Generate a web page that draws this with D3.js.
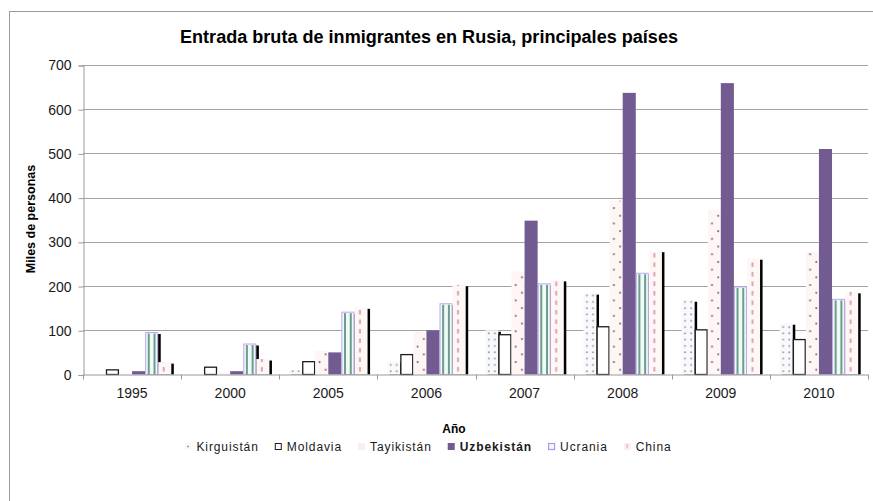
<!DOCTYPE html>
<html><head><meta charset="utf-8">
<script src="https://cdn.jsdelivr.net/npm/d3@7"></script>
<style>
html,body{margin:0;padding:0;background:#fff;}
svg{display:block;font-family:"Liberation Sans",Arial,sans-serif;}
</style>
</head><body>
<svg id="chart" width="873" height="501"></svg>
<script>
const categories = ["1995","2000","2005","2006","2007","2008","2009","2010"];
const seriesNames = ["Kirguistán","Moldavia","Tayikistán","Uzbekistán","Ucrania","China"];
const kirguistan = [0, 0, 10, 30, 100, 184, 168, 116];
const moldavia   = [10.5, 16.5, 29, 45, 90, 108, 101, 79];
const tayikistan = [2, 5, 53, 96, 233, 393, 373, 278];
const uzbekistan = [7.5, 7.5, 50, 100, 348, 637, 659, 510];
const ucrania    = [95, 69, 141, 160, 205, 229, 198, 170];
const china      = [28, 35, 152, 203, 214, 280, 263, 187];
const yTicks = [0, 100, 200, 300, 400, 500, 600, 700];
const titleText = "Entrada bruta de inmigrantes en Rusia, principales países";
const xTitle = "Año";
const yTitle = "Miles de personas";

const seriesValues = [kirguistan, moldavia, tayikistan, uzbekistan, ucrania, china];
const shadowed = ["Kirguistán", "Ucrania", "China"];

const svg = d3.select("#chart");
const defs = svg.append("defs");
const L = 83, R = 868, T = 65, B = 374.5;

const x = d3.scaleBand().domain(categories).range([L, R]).padding(0);
const xs = d3.scaleBand().domain(seriesNames).range([0, x.bandwidth()]).paddingInner(0).paddingOuter(0.75);
const y = d3.scaleLinear().domain([0, 700]).range([B, T]);
const bw = xs.bandwidth();

// outer frame
svg.append("rect").attr("x", 9.5).attr("y", 11.5).attr("width", 1000).attr("height", 1000)
  .attr("fill", "none").attr("stroke", "#9a9a9a").attr("stroke-width", 1);

// title
svg.append("text").attr("x", 429).attr("y", 43).attr("text-anchor", "middle")
  .attr("font-family", "'Liberation Sans Narrow','Liberation Sans',Arial,sans-serif")
  .attr("font-weight", "bold").attr("font-size", 18)
  .attr("textLength", 498).attr("lengthAdjust", "spacingAndGlyphs")
  .attr("fill", "#000").text(titleText);

// gridlines
svg.append("g").selectAll("line").data(yTicks.filter(d => d > 0)).join("line")
  .attr("x1", L).attr("x2", R)
  .attr("y1", d => Math.round(y(d)) + 0.5).attr("y2", d => Math.round(y(d)) + 0.5)
  .attr("stroke", "#a3a3a3").attr("stroke-width", 1);

// y axis
const yAxis = d3.axisLeft(y).tickValues(yTicks).tickSize(5).tickPadding(7);
const gy = svg.append("g").attr("transform", `translate(${L + 0.5},0.5)`).call(yAxis);
gy.select(".domain").attr("stroke", "#9a9a9a");
gy.selectAll(".tick line").attr("stroke", "#9a9a9a");
gy.selectAll(".tick text").attr("font-size", 14).attr("fill", "#1a1a1a")
  .attr("font-family", "'Liberation Sans',Arial,sans-serif");

// patterns per bar
function patId(s, i) { return "p" + seriesNames.indexOf(s) + "_" + i; }
categories.forEach((c, i) => {
  seriesNames.forEach((s, si) => {
    const bx = x(c) + xs(s);
    const p = defs.append("pattern").attr("id", patId(s, i))
      .attr("patternUnits", "userSpaceOnUse").attr("x", bx);
    if (s === "Kirguistán") {
      p.attr("width", bw).attr("height", 6.3).attr("y", B);
      p.append("rect").attr("width", bw).attr("height", 6.3).attr("fill", "#f8f9fc");
      p.append("circle").attr("cx", bw * 0.27).attr("cy", 3).attr("r", 1).attr("fill", "#9a9a9a");
      p.append("circle").attr("cx", bw * 0.73).attr("cy", 3).attr("r", 1).attr("fill", "#9a9a9a");
    } else if (s === "Tayikistán") {
      p.attr("width", bw).attr("height", 15.4).attr("y", B);
      p.append("rect").attr("width", bw).attr("height", 15.4).attr("fill", "#fdf6f4");
      p.append("circle").attr("cx", bw * 0.33).attr("cy", 3).attr("r", 1.05).attr("fill", "#8a6474");
      p.append("circle").attr("cx", bw * 0.8).attr("cy", 10.7).attr("r", 1.05).attr("fill", "#8a6474");
    } else if (s === "China") {
      p.attr("width", bw).attr("height", 9.5).attr("y", B);
      p.append("rect").attr("width", bw).attr("height", 9.5).attr("fill", "#fdf7f6");
      p.append("rect").attr("x", bw * 0.42 - 1).attr("y", 2).attr("width", 2).attr("height", 4.5).attr("fill", "#dfa2b5");
    }
  });
});

// shadows (under bars)
const gShadow = svg.append("g");
seriesNames.forEach((s, si) => {
  if (!shadowed.includes(s)) return;
  gShadow.selectAll(null).data(seriesValues[si]).join("rect")
    .attr("x", (d, i) => x(categories[i]) + xs(s) + 2.5)
    .attr("y", d => y(d) + 1.5)
    .attr("width", bw)
    .attr("height", d => Math.max(0, B - y(d) - 1.5))
    .attr("fill", "#000");
});

// bars
const gBars = svg.append("g");
seriesNames.forEach((s, si) => {
  const vals = seriesValues[si];
  const g = gBars.append("g");
  const rects = g.selectAll("rect").data(vals).join("rect")
    .attr("x", (d, i) => x(categories[i]) + xs(s))
    .attr("y", d => y(d))
    .attr("width", bw)
    .attr("height", d => B - y(d));
  if (s === "Moldavia") {
    rects.attr("fill", "#fff").attr("stroke", "#1c1c1c").attr("stroke-width", 1.3)
      .attr("x", (d, i) => x(categories[i]) + xs(s) + 0.6).attr("width", bw - 1.2);
  } else if (s === "Uzbekistán") {
    rects.attr("fill", "#725b90");
  } else if (s === "Ucrania") {
    rects.attr("fill", "#eefbf8").attr("stroke", "#c3a3f5").attr("stroke-width", 1)
      .attr("x", (d, i) => x(categories[i]) + xs(s) + 0.5).attr("width", bw - 1);
    [0.2, 0.64].forEach(f => {
      g.selectAll(null).data(vals).join("rect")
        .attr("x", (d, i) => x(categories[i]) + xs(s) + bw * f)
        .attr("y", d => y(d) + 1)
        .attr("width", 2)
        .attr("height", d => Math.max(0, B - y(d) - 1))
        .attr("fill", "#6f9d88");
    });
  } else {
    rects.attr("fill", (d, i) => `url(#${patId(s, i)})`);
  }
});

// x axis
const xAxis = d3.axisBottom(x).tickSize(0).tickPadding(14);
const gx = svg.append("g").attr("transform", `translate(0,${B})`).call(xAxis);
gx.select(".domain").attr("stroke", "#9a9a9a").attr("d", `M${L},0.5H${R}`);
gx.selectAll(".tick text").attr("font-size", 14).attr("fill", "#1a1a1a")
  .attr("font-family", "'Liberation Sans',Arial,sans-serif");
// category boundary ticks
svg.append("g").selectAll("line").data(categories.concat(["__end"])).join("line")
  .attr("x1", (d, i) => Math.round(i < categories.length ? x(d) : R) + 0.5)
  .attr("x2", (d, i) => Math.round(i < categories.length ? x(d) : R) + 0.5)
  .attr("y1", B).attr("y2", B + 5)
  .attr("stroke", "#9a9a9a");

// axis titles
svg.append("text").attr("x", 454).attr("y", 433).attr("text-anchor", "middle")
  .attr("font-weight", "bold").attr("font-size", 12).attr("fill", "#000").text(xTitle);
svg.append("text").attr("transform", "translate(35,219) rotate(-90)").attr("text-anchor", "middle")
  .attr("font-weight", "bold").attr("font-size", 12.5).attr("fill", "#000").text(yTitle);

// legend
const legend = svg.append("g");
const items = seriesNames.map(s => {
  const g = legend.append("g");
  const t = g.append("text").attr("y", 451).attr("font-size", 12).attr("letter-spacing", 0.9)
    .attr("fill", "#1a1a1a").attr("font-weight", s === "Uzbekistán" ? "bold" : "normal").text(s);
  return { s, g, t, w: t.node().getComputedTextLength() };
});
const mk = 7, gapMT = 5, gapItem = 16;
const total = d3.sum(items, d => mk + gapMT + d.w) + gapItem * (items.length - 1);
let cx = 428 - total / 2;
items.forEach(it => {
  const mx = cx, my = 443;
  if (it.s === "Kirguistán") {
    it.g.append("rect").attr("x", mx).attr("y", my).attr("width", mk).attr("height", mk).attr("fill", "#f8f9fc");
    it.g.append("circle").attr("cx", mx + 3.5).attr("cy", my + 3.5).attr("r", 1).attr("fill", "#9a9a9a");
  } else if (it.s === "Moldavia") {
    it.g.append("rect").attr("x", mx + 0.5).attr("y", my + 0.5).attr("width", mk - 1).attr("height", mk - 1)
      .attr("fill", "#fff").attr("stroke", "#1c1c1c").attr("stroke-width", 1);
  } else if (it.s === "Tayikistán") {
    it.g.append("rect").attr("x", mx).attr("y", my).attr("width", mk).attr("height", mk).attr("fill", "#fbeef0");
  } else if (it.s === "Uzbekistán") {
    it.g.append("rect").attr("x", mx).attr("y", my).attr("width", mk).attr("height", mk).attr("fill", "#725b90");
  } else if (it.s === "Ucrania") {
    it.g.append("rect").attr("x", mx + 0.5).attr("y", my + 0.5).attr("width", mk - 1).attr("height", mk - 1)
      .attr("fill", "#eefbf8").attr("stroke", "#b990f5").attr("stroke-width", 1.2);
  } else {
    it.g.append("rect").attr("x", mx).attr("y", my).attr("width", mk).attr("height", mk).attr("fill", "#fbeef0");
    it.g.append("rect").attr("x", mx + 2.5).attr("y", my + 1).attr("width", 2).attr("height", 4).attr("fill", "#efc5d0");
  }
  it.t.attr("x", mx + mk + gapMT);
  cx += mk + gapMT + it.w + gapItem;
});
</script>
</body></html>
